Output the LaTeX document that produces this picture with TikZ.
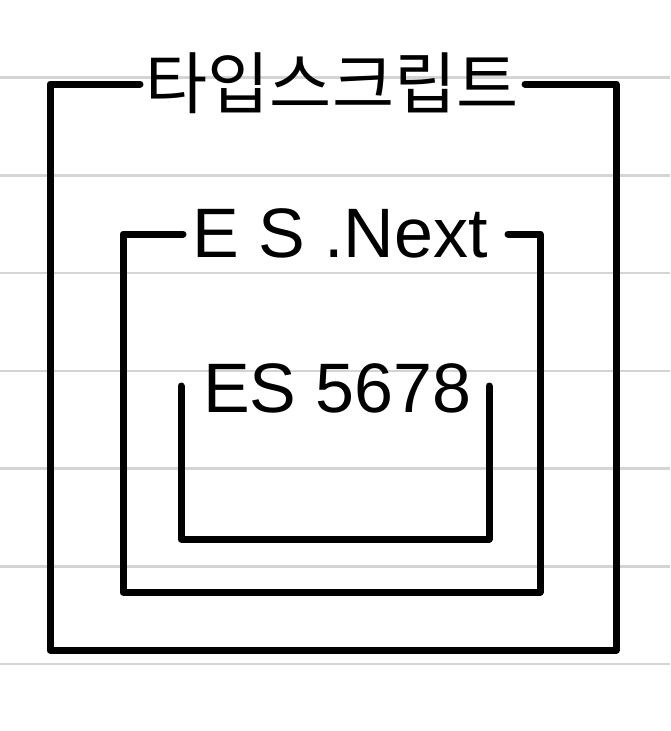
\documentclass[tikz,border=0pt]{standalone}
\usepackage{fontspec}
\setmainfont{Liberation Sans}
\newfontfamily\krfont{Noto Sans CJK KR}
\begin{document}
\begin{tikzpicture}[x=1pt,y=-1pt,
  ruling/.style={draw={rgb,255:red,212;green,212;blue,212},line width=2.6pt},
  boxline/.style={draw=black,line width=7pt,line cap=round,line join=round},
  lbl/.style={inner sep=0pt,font=\fontsize{70}{84}\selectfont},
  krlbl/.style={inner sep=0pt,font=\krfont\fontsize{67.5}{80}\selectfont}]
\useasboundingbox[fill=white] (0,0) rectangle (670,731);
% ruled paper lines
\foreach \yy in {77.7,175.4,273.1,370.8,468.5,566.2,663.9}
  \draw[ruling] (0,\yy) -- (670,\yy);
% labels
\node[krlbl,anchor=center] (ts) at (332,83) {타입스크립트};
\node[lbl,anchor=base] (esn) at (340,257) {E S .Next};
\node[lbl,anchor=base] (es5) at (337.5,412) {ES 5678};
% outer box
\coordinate (o1) at (140,84);
\coordinate (o2) at (525,84);
\draw[boxline] (o1) -- (50,84) -- (50,650) -- (616,650) -- (616,84) -- (o2);
% middle box
\coordinate (m1) at (183,234);
\coordinate (m2) at (508,234);
\draw[boxline] (m1) -- (123,234) -- (123,592) -- (540,592) -- (540,234) -- (m2);
% inner box
\coordinate (i1) at (181,386);
\coordinate (i2) at (489,386);
\draw[boxline] (i1) -- (181,539) -- (489,539) -- (i2);
\end{tikzpicture}
\end{document}
